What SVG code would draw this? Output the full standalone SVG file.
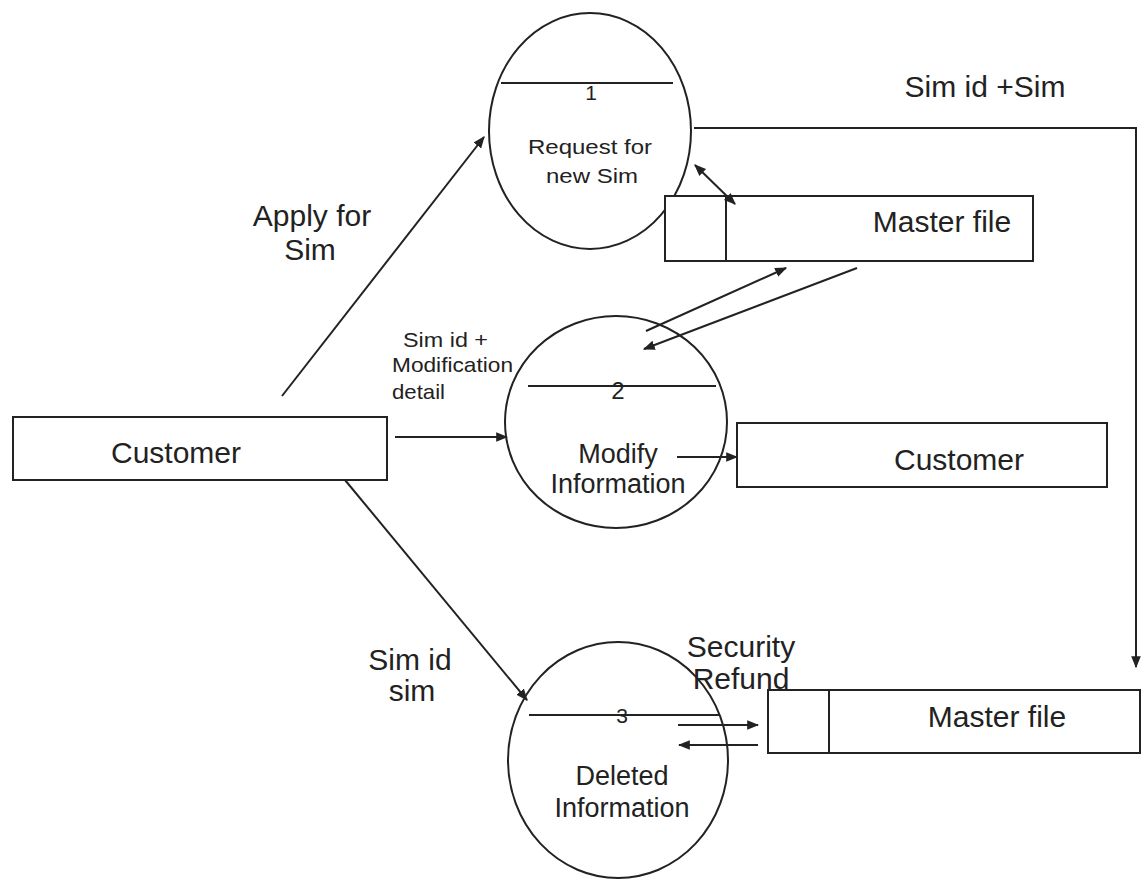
<svg xmlns="http://www.w3.org/2000/svg" width="1145" height="882" viewBox="0 0 1145 882">
<style>
.s{fill:none;stroke:#222;stroke-width:2}
.b{fill:#fff;stroke:#222;stroke-width:2}
.t{font-family:"Liberation Sans",Arial,sans-serif;fill:#222;text-anchor:middle}
.st{text-anchor:start}
.l{font-size:30px}
.m{font-size:27px}
.sm{font-size:21px}
.d{font-size:21px}
</style>
<defs>
<marker id="ah" viewBox="0 0 10 10" refX="9" refY="5" markerWidth="12" markerHeight="12" markerUnits="userSpaceOnUse" orient="auto-start-reverse">
<path d="M0,1 L10,5 L0,9 Z" fill="#222"/>
</marker>
</defs>
<rect width="1145" height="882" fill="#fff"/>
<g id="p1">
<ellipse class="b" cx="590" cy="131" rx="101" ry="118"/>
<line class="s" x1="501" y1="83" x2="673" y2="83"/>
<text class="t d" x="591" y="100">1</text>
<text class="t sm" x="590" y="154" textLength="124" lengthAdjust="spacingAndGlyphs">Request for</text>
<text class="t sm" x="592" y="183" textLength="92" lengthAdjust="spacingAndGlyphs">new Sim</text>
</g>
<g id="ds1">
<rect class="b" x="665" y="196" width="368" height="65"/>
<line class="s" x1="726" y1="196" x2="726" y2="261"/>
<text class="t l" x="942" y="232">Master file</text>
</g>
<g id="p2">
<ellipse class="b" cx="616" cy="422" rx="111" ry="106"/>
<line class="s" x1="528" y1="386" x2="716" y2="386"/>
<text class="t" style="font-size:24px" x="618" y="399">2</text>
<text class="t m" x="618" y="463">Modify</text>
<text class="t m" x="618" y="493">Information</text>
</g>
<g id="e1">
<rect class="b" x="13" y="417" width="374" height="63"/>
<text class="t l" x="176" y="463">Customer</text>
</g>
<g id="e2">
<rect class="b" x="737" y="423" width="370" height="64"/>
<text class="t l" x="959" y="470">Customer</text>
</g>
<g id="p3">
<ellipse class="b" cx="618" cy="760" rx="110" ry="118"/>
<line class="s" x1="529" y1="715" x2="720" y2="715"/>
<text class="t d" x="622" y="723">3</text>
<text class="t m" x="622" y="785">Deleted</text>
<text class="t m" x="622" y="817">Information</text>
</g>
<g id="ds2">
<rect class="b" x="768" y="690" width="372" height="63"/>
<line class="s" x1="829" y1="690" x2="829" y2="753"/>
<text class="t l" x="997" y="727">Master file</text>
</g>
<g id="connectors">
<polyline class="s" points="694,128 1136,128 1136,667" marker-end="url(#ah)"/>
<line class="s" x1="282" y1="396" x2="484" y2="137" marker-end="url(#ah)"/>
<line class="s" x1="735" y1="204" x2="695" y2="165" marker-start="url(#ah)" marker-end="url(#ah)"/>
<line class="s" x1="646" y1="331" x2="786" y2="268" marker-end="url(#ah)"/>
<line class="s" x1="857" y1="268" x2="644" y2="349" marker-end="url(#ah)"/>
<line class="s" x1="395" y1="437" x2="507" y2="437" marker-end="url(#ah)"/>
<line class="s" x1="677" y1="457" x2="737" y2="457" marker-end="url(#ah)"/>
<line class="s" x1="345" y1="480" x2="527" y2="700" marker-end="url(#ah)"/>
<line class="s" x1="678" y1="725" x2="758" y2="725" marker-end="url(#ah)"/>
<line class="s" x1="758" y1="745" x2="679" y2="745" marker-end="url(#ah)"/>
</g>
<g id="labels">
<text class="t l" x="985" y="97">Sim id +Sim</text>
<text class="t l" x="312" y="226">Apply for</text>
<text class="t l" x="310" y="260">Sim</text>
<text class="t sm st" x="403" y="347" textLength="85" lengthAdjust="spacingAndGlyphs">Sim id +</text>
<text class="t sm st" x="392" y="372" textLength="121" lengthAdjust="spacingAndGlyphs">Modification</text>
<text class="t sm st" x="392" y="399" textLength="53" lengthAdjust="spacingAndGlyphs">detail</text>
<text class="t l" x="410" y="670">Sim id</text>
<text class="t l" x="412" y="701">sim</text>
<text class="t l" x="741" y="657">Security</text>
<text class="t l" x="741" y="689">Refund</text>
</g>
</svg>
